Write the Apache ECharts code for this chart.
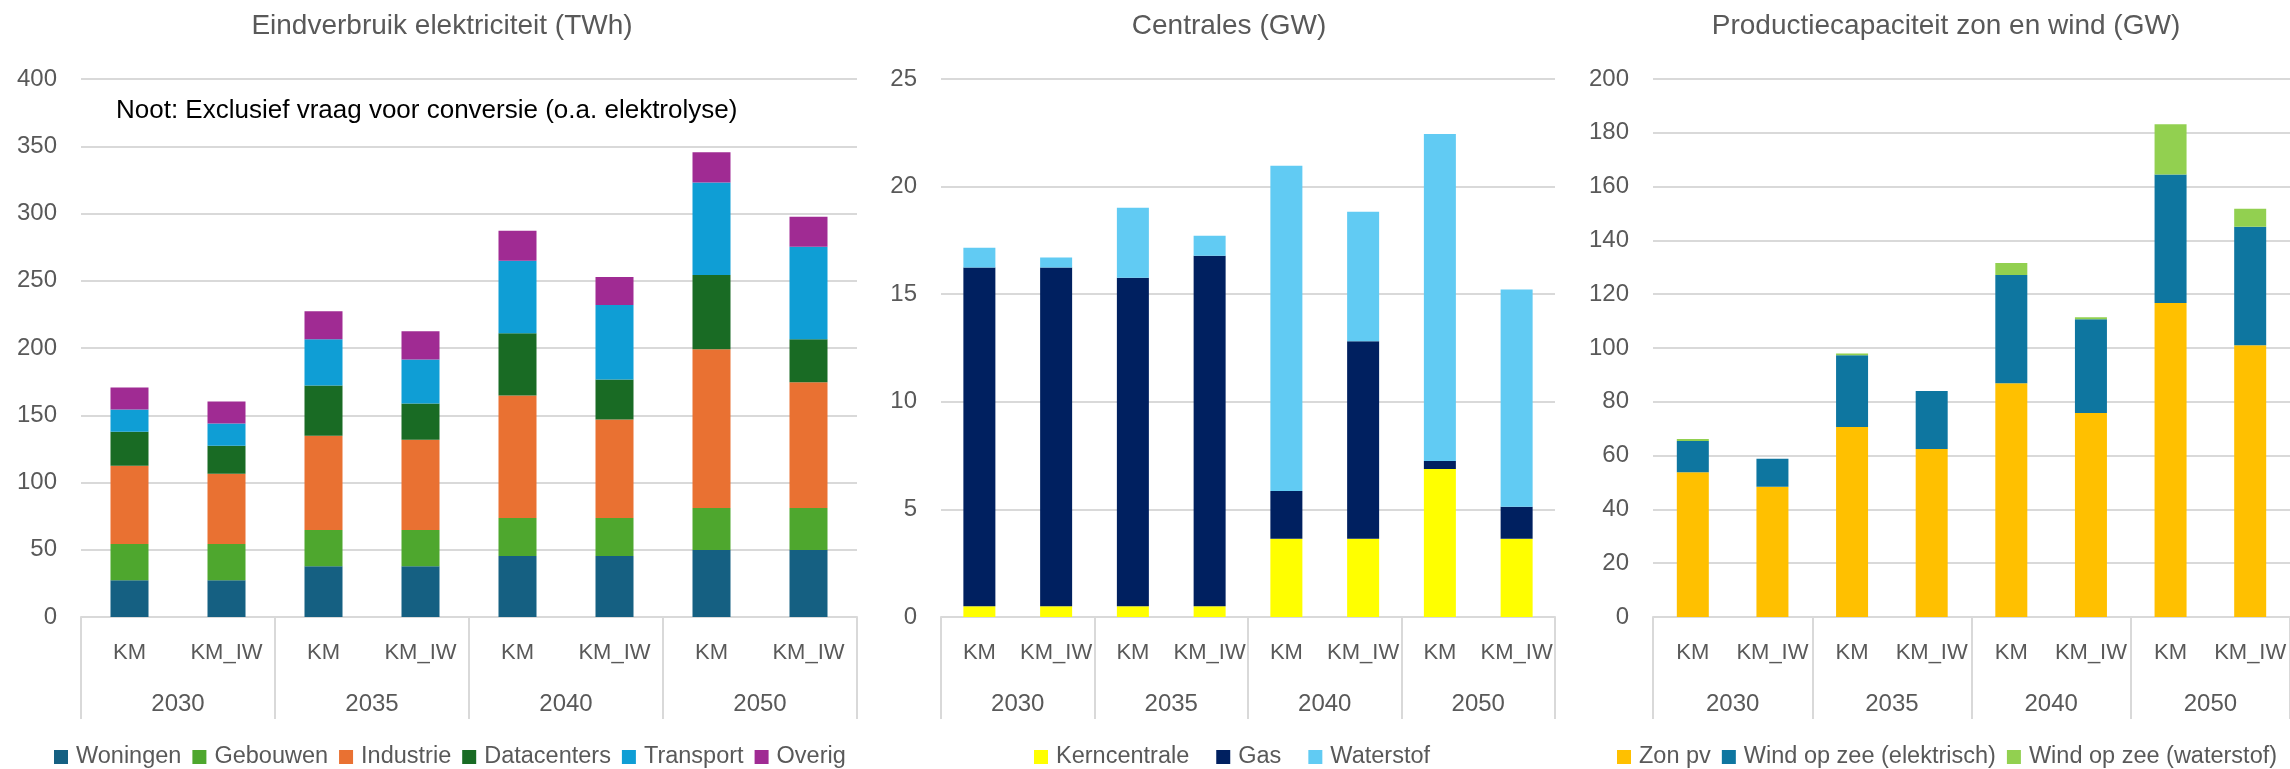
<!DOCTYPE html>
<html>

<head>
  <meta charset="utf-8">
  <title>Eindverbruik, centrales en productiecapaciteit</title>
  <script src="https://cdn.jsdelivr.net/npm/echarts@6/dist/echarts.min.js"></script>
  <style>
    html,
    body {
      margin: 0;
      padding: 0;
      background: #fff;
    }

    #main {
      width: 2290px;
      height: 769px;
    }
  </style>
</head>

<body>
  <div id="main"></div>
  <script>
    // categorieen
    var scenarios = ['KM', 'KM_IW', 'KM', 'KM_IW', 'KM', 'KM_IW', 'KM', 'KM_IW'];
    var years = ['2030', '2035', '2040', '2050'];

    // Eindverbruik elektriciteit (TWh)
    var woningen = [27.4, 27.4, 37.8, 37.8, 45.3, 45.3, 49.8, 49.8];
    var gebouwen = [26.8, 26.8, 26.9, 26.9, 28.3, 28.3, 31.3, 31.3];
    var industrie = [58.2, 52.3, 70.1, 67.1, 91.1, 73.2, 117.9, 93.5];
    var datacenters = [25.4, 20.9, 37.3, 26.9, 46.3, 29.8, 55.3, 31.9];
    var transport = [16.4, 16.4, 34.4, 32.8, 53.8, 55.3, 68.7, 68.7];
    var overig = [16.4, 16.4, 20.9, 21.0, 22.4, 20.9, 22.5, 22.4];

    // Centrales (GW)
    var kerncentrale = [0.5, 0.5, 0.5, 0.5, 3.64, 3.64, 6.88, 3.64];
    var gas = [15.74, 15.74, 15.27, 16.29, 2.22, 9.17, 0.37, 1.48];
    var waterstof = [0.92, 0.46, 3.25, 0.93, 15.11, 6.02, 15.2, 10.1];

    // Productiecapaciteit zon en wind (GW)
    var zonPv = [53.8, 48.4, 70.6, 62.5, 86.9, 75.8, 116.7, 101.0];
    var windElek = [11.6, 10.4, 26.7, 21.5, 40.2, 34.9, 47.8, 44.1];
    var windWater = [0.8, 0, 0.7, 0, 4.5, 0.7, 18.7, 6.7];

    var font = 'Liberation Sans, Arial, sans-serif';
    var grey = '#595959';
    var lineGrey = '#d9d9d9';

    var myChart = echarts.init(document.getElementById('main'));

    function titleAt(text, x) {
      return {
        text: text,
        left: x,
        top: 12,
        padding: 0,
        textAlign: 'center',
        textStyle: { fontFamily: font, fontSize: 28, fontWeight: 'normal', color: grey }
      };
    }

    // twee x-assen per grafiek: scenario's en jaren eronder
    function xAxesFor(gi) {
      return [{
        type: 'category',
        gridIndex: gi,
        position: 'bottom',
        data: scenarios,
        axisLine: { show: true, lineStyle: { color: lineGrey, width: 2 } },
        axisTick: { show: false },
        axisLabel: { interval: 0, margin: 25, fontFamily: font, fontSize: 22, color: grey }
      }, {
        type: 'category',
        gridIndex: gi,
        position: 'bottom',
        data: years,
        axisLine: { show: false },
        axisTick: { show: true, interval: 0, length: 102, lineStyle: { color: lineGrey, width: 2 } },
        axisLabel: { interval: 0, margin: 75, fontFamily: font, fontSize: 24, color: grey }
      }];
    }

    function yAxisFor(gi, max, step) {
      return {
        type: 'value',
        gridIndex: gi,
        min: 0,
        max: max,
        interval: step,
        axisLine: { show: false },
        axisTick: { show: false },
        splitLine: { lineStyle: { color: lineGrey, width: 2 } },
        axisLabel: { margin: 24, fontFamily: font, fontSize: 24, color: grey }
      };
    }

    function bars(name, data, color, gi, stack, width) {
      return {
        name: name,
        type: 'bar',
        stack: stack,
        xAxisIndex: gi * 2,
        yAxisIndex: gi,
        barWidth: width,
        data: data,
        itemStyle: { color: color },
        emphasis: { disabled: true }
      };
    }

    function legendAt(x, gap, names) {
      return {
        left: x,
        top: 745,
        padding: 0,
        icon: 'rect',
        itemWidth: 14,
        itemHeight: 14,
        itemGap: gap,
        data: names,
        textStyle: { fontFamily: font, fontSize: 23.5, color: grey, padding: [0, 0, 0, 3] }
      };
    }

    var option = {
      animation: false,
      backgroundColor: '#fff',
      title: [
        titleAt('Eindverbruik elektriciteit (TWh)', 442),
        titleAt('Centrales (GW)', 1229),
        titleAt('Productiecapaciteit zon en wind (GW)', 1946),
        {
          text: 'Noot: Exclusief vraag voor conversie (o.a. elektrolyse)',
          left: 116,
          top: 98,
          padding: 0,
          textStyle: { fontFamily: font, fontSize: 26, fontWeight: 'normal', color: '#000' }
        }
      ],
      grid: [
        { left: 81, right: 1433, top: 79, bottom: 152, outerBoundsMode: 'none' },
        { left: 941, right: 735, top: 79, bottom: 152, outerBoundsMode: 'none' },
        { left: 1653, right: 0, top: 79, bottom: 152, outerBoundsMode: 'none' }
      ],
      xAxis: [].concat(xAxesFor(0), xAxesFor(1), xAxesFor(2)),
      yAxis: [yAxisFor(0, 400, 50), yAxisFor(1, 25, 5), yAxisFor(2, 200, 20)],
      legend: [
        legendAt(54, 11, ['Woningen', 'Gebouwen', 'Industrie', 'Datacenters', 'Transport', 'Overig']),
        legendAt(1034, 27, ['Kerncentrale', 'Gas', 'Waterstof']),
        legendAt(1617, 11, ['Zon pv', 'Wind op zee (elektrisch)', 'Wind op zee (waterstof)'])
      ],
      series: [
        bars('Woningen', woningen, '#156082', 0, 'a', 38),
        bars('Gebouwen', gebouwen, '#4ea72e', 0, 'a', 38),
        bars('Industrie', industrie, '#e97132', 0, 'a', 38),
        bars('Datacenters', datacenters, '#196b24', 0, 'a', 38),
        bars('Transport', transport, '#0f9ed5', 0, 'a', 38),
        bars('Overig', overig, '#a02b93', 0, 'a', 38),

        bars('Kerncentrale', kerncentrale, '#ffff00', 1, 'b', 32),
        bars('Gas', gas, '#002060', 1, 'b', 32),
        bars('Waterstof', waterstof, '#61cbf3', 1, 'b', 32),

        bars('Zon pv', zonPv, '#ffc000', 2, 'c', 32),
        bars('Wind op zee (elektrisch)', windElek, '#0e76a0', 2, 'c', 32),
        bars('Wind op zee (waterstof)', windWater, '#92d050', 2, 'c', 32)
      ]
    };

    myChart.setOption(option);
  </script>
</body>

</html>
